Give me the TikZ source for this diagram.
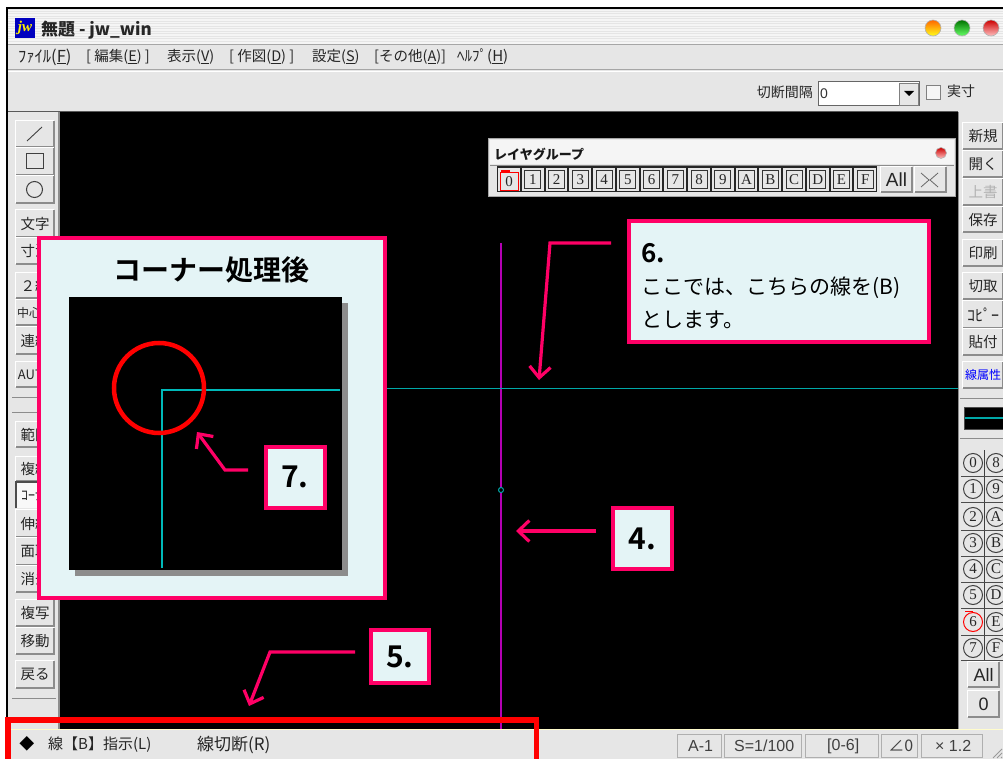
\documentclass[tikz,border=0pt]{standalone}
\usepackage{fontspec}
\usetikzlibrary{arrows.meta}
\setmainfont{Liberation Sans}
\newfontfamily\jp{Noto Sans CJK JP}
\newfontfamily\jpb{Noto Sans CJK JP}[BoldFont={Noto Sans CJK JP Bold}]
\newfontfamily\slab{Liberation Serif}
\definecolor{uigray}{HTML}{E6E6E6}
\definecolor{uidark}{HTML}{8C8C8C}
\definecolor{pinkc}{HTML}{FF0066}
\definecolor{boxfill}{HTML}{E4F4F6}
\definecolor{cyanl}{HTML}{00A8A8}
\definecolor{magl}{HTML}{B400B4}
\newcommand{\fs}[1]{\fontsize{#1}{#1}\selectfont}
\tikzset{
  uilabel/.style={inner sep=0pt,text=black!85,font=\jp\fs{14.5}},
  menu/.style={inner sep=0pt,anchor=west,text=black!85,font=\jp\fs{14.5}},
  sep/.style={line width=1pt,draw=uidark},
  callout/.style={draw=pinkc,line width=4pt,fill=boxfill,inner sep=0pt,text=black},
  numbox/.style={callout,font=\jpb\bfseries\fs{30}},
  callarrow/.style={draw=pinkc,line width=3.2pt,line join=miter,
    -{Straight Barb[length=11pt,width=21pt,line width=3.2pt]}},
  panel/.style={draw=uidark!70,line width=.7pt,fill=uigray,inner sep=0pt,anchor=west,font=\fs{16},text=black!75},
  layerbtn/.style={draw=black!80,line width=1pt,fill=uigray,inner sep=0pt,minimum width=16pt,minimum height=18pt,font=\slab\fs{15},text=black!85},
  circbtn/.style={circle,draw=black!75,line width=1pt,fill=uigray,inner sep=0pt,minimum size=19pt,font=\slab\fs{15},text=black!85},
  lamp/.style={circle,inner sep=0pt,minimum size=16pt,draw=black!30,line width=.6pt}
}
\newcommand{\uibtn}[6]{%
  \pgfmathsetmacro{\bw}{#4-#2}\pgfmathsetmacro{\bh}{#5-#3}%
  \node[fill=uigray,inner sep=0pt,minimum width=\bw pt,minimum height=\bh pt,uilabel] (#1) at ({(#2+#4)/2},{(#3+#5)/2}) {#6};%
  \draw[uidark,line width=1.6pt] (#1.south west) -- (#1.south east) -- (#1.north east);%
  \draw[white,line width=1.2pt] (#1.south west) -- (#1.north west) -- (#1.north east);%
}
\begin{document}
\begin{tikzpicture}[x=1pt,y=-1pt]
\useasboundingbox (0,0) rectangle (1003,759);
\fill[white] (0,0) rectangle (1003,759);
% window
\fill[uigray] (6,8) rectangle (1003,759);
\draw[black,line width=1.6pt] (6.8,759) -- (6.8,8.2) -- (1003,8.2);
% title bar stripes
\fill[white!96!black] (8,10) rectangle (1003,44);
\foreach \yy in {11,13.5,...,43} {\draw[black!10,line width=.8pt] (8,\yy) -- (1003,\yy);}
\draw[black!35,line width=1pt] (8,44.5) -- (1003,44.5);
\draw[black!35,line width=1pt] (8,70) -- (1003,70);
\draw[white,line width=1pt] (8,71.5) -- (1003,71.5);
% title
\node[fill=blue!75!black,inner sep=0pt,minimum width=20pt,minimum height=20pt,text=yellow,font=\slab\bfseries\itshape\fs{15}] (icon) at (25,28) {jw};
\node[inner sep=0pt,anchor=west,font=\jp\bfseries\fs{17},text=black!85] (ttl) at (41,30) {無題 - jw\_win};
\node[lamp,top color=orange!80!red,bottom color=yellow!90!white] (l1) at (933,28) {};
\node[lamp,top color=green!45!black,bottom color=green!60!white] (l2) at (962,28) {};
\node[lamp,top color=red!80!black,bottom color=red!25!white] (l3) at (991,28) {};
% menu
\node[menu,font=\jp\fs{16.5}] (m1) at (18,57) {ﾌｧｲﾙ(\underline{F})};
\node[menu] (m2) at (86,57) {[ 編集(\underline{E}) ]};
\node[menu] (m3) at (167,57) {表示(\underline{V})};
\node[menu] (m4) at (229,57) {[ 作図(\underline{D}) ]};
\node[menu] (m5) at (312,57) {設定(\underline{S})};
\node[menu] (m6) at (374,57) {[その他(\underline{A})]};
\node[menu,font=\jp\fs{15}] (m7) at (457,57) {ﾍﾙﾌﾟ(\underline{H})};
% toolbar
\node[menu,anchor=east,font=\jp\fs{14}] (cutl) at (813,92) {切断間隔};
\node[draw=black!60,line width=1pt,fill=white,inner sep=0pt,minimum width=101pt,minimum height=24pt] (cutbox) at (869,94) {};
\node[anchor=west,inner sep=0pt,font=\fs{14},text=black!80] (cutv) at (820,94) {0};
\node[fill=uigray,draw=black!50,line width=.8pt,inner sep=0pt,minimum width=19pt,minimum height=22pt] (cutbtn) at (909,94) {};
\fill[black] (904,91) -- (914,91) -- (909,96) -- cycle;
\node[draw=black!50,line width=.8pt,fill=white!60!uigray,inner sep=0pt,minimum size=14pt] (chk) at (933,92) {};
\node[menu,font=\jp\fs{14}] (jis) at (947,91) {実寸};
% canvas
\fill[black] (60,112) rectangle (958,729);
\draw[black!65,line width=1pt] (8,111.5) -- (958,111.5);
% drawing lines
\draw[magl,line width=1.3pt] (501,243) -- (501,729);
\draw[cyanl,line width=1.5pt] (386,388.5) -- (958,388.5);
\node[circle,draw=cyanl,line width=1pt,fill=black,inner sep=0pt,minimum size=5pt] (dot) at (501,490) {};
% left buttons
\uibtn{bA}{16}{121}{54}{147}{}
\draw[black!75,line width=.9pt] (27,141) -- (42,127);
\uibtn{bB}{16}{148}{54}{175}{}
\draw[black!75,line width=1pt] (26,154) rectangle (43,169);
\uibtn{bC}{16}{176}{54}{203}{}
\draw[black!75,line width=1pt] (34.5,189.5) circle [radius=8];
\uibtn{bD}{16}{210}{54}{237}{文字}
\uibtn{bE}{16}{238}{54}{264}{寸法}
\uibtn{bF}{16}{273}{54}{298}{２線}
\uibtn{bG}{16}{300}{54}{325}{\fs{12}中心線}
\uibtn{bH}{16}{327}{54}{354}{連線}
\uibtn{bI}{16}{362}{54}{387}{\fs{13}AUTO}
\draw[sep] (12,397) -- (60,397);
\draw[sep] (12,412) -- (60,412);
\uibtn{bJ}{16}{422}{54}{447}{範囲}
\uibtn{bK}{16}{457}{54}{481}{複線}
\node[fill=white!70!uigray,inner sep=0pt,minimum width=38pt,minimum height=26pt,uilabel,font=\jp\fs{14}] (bL) at (35,495) {ｺｰﾅｰ};
\draw[black!70,line width=1.4pt] (bL.south west) -- (bL.north west) -- (bL.north east);
\uibtn{bM}{16}{510}{54}{537}{伸縮}
\uibtn{bN}{16}{538}{54}{565}{面取}
\uibtn{bO}{16}{566}{54}{592}{消去}
\uibtn{bP}{16}{600}{54}{626}{複写}
\uibtn{bQ}{16}{628}{54}{654}{移動}
\uibtn{bR}{16}{661}{54}{688}{戻る}
\draw[sep] (12,698) -- (56,698);
\draw[uidark,line width=1.2pt] (59,112) -- (59,729);
% right buttons
\draw[uidark,line width=1pt] (958.5,112) -- (958.5,729);
\uibtn{rA}{963}{123}{1003}{149}{新規}
\uibtn{rB}{963}{151}{1003}{177}{開く}
\uibtn{rC}{963}{179}{1003}{205}{\textcolor{black!30}{上書}}
\uibtn{rD}{963}{207}{1003}{232}{保存}
\uibtn{rE}{963}{240}{1003}{266}{印刷}
\uibtn{rF}{963}{273}{1003}{299}{切取}
\uibtn{rG}{963}{301}{1003}{328}{\fs{16}ｺﾋﾟｰ}
\uibtn{rH}{963}{329}{1003}{355}{貼付}
\uibtn{rI}{963}{362}{1003}{388}{\textcolor{blue}{\fs{12}線属性}}
\draw[sep] (960,398) -- (1003,398);
\node[draw=black!70,line width=1pt,fill=black,inner sep=0pt,minimum width=44pt,minimum height=22pt] (lineb) at (986,418) {};
\draw[cyanl,line width=1.4pt] (965,418) -- (lineb.east);
\draw[sep] (960,438) -- (1003,438);
% circled layers
\foreach \lbl/\yy [count=\n] in {0/463,1/489,2/517,3/543,4/569,5/595,6/622,7/648} {
  \ifnum\n=7
    \node[circbtn,draw=red] (cl\n) at (973,\yy) {\lbl};
    \draw[red,line width=1.5pt] (965,611.5) -- (973,611.5);
  \else
    \node[circbtn] (cl\n) at (973,\yy) {\lbl};
  \fi
}
\foreach \lbl/\yy [count=\n] in {8/463,9/489,A/517,B/543,C/569,D/595,E/622,F/648} {
  \node[circbtn] (cr\n) at (996,\yy) {\lbl};
}
\draw[black!75,line width=1pt] (984,450) -- (984,660);
\foreach \yy in {476,502.5,530,556,582,608,635,660} {\draw[black!70,line width=1pt] (961,\yy) -- (1003,\yy);}
\uibtn{rJ}{968}{662}{999}{687}{\fontspec{Liberation Sans}\fs{18}All}
\uibtn{rK}{968}{691}{999}{717}{\fontspec{Liberation Sans}\fs{18}0}
% layer group
\node[fill=uigray,draw=black!35,line width=1pt,inner sep=0pt,minimum width=467pt,minimum height=58pt] (lg) at (722,168) {};
\fill[white!96!black] (490,140) rectangle (954,164);
\draw[black!45,line width=.8pt] (490,165) -- (954,165);
\node[inner sep=0pt,anchor=west,font=\jp\bfseries\fs{13},text=black!90] (lgt) at (494,154) {レイヤグループ};
\node[lamp,minimum size=11pt,top color=red!80!black,bottom color=red!25!white] (lgc) at (941,153) {};
\foreach \lbl [count=\n from 0] in {0,1,2,3,4,5,6,7,8,9,A,B,C,D,E,F} {
  \pgfmathsetmacro{\xx}{509+23.75*\n}
  \draw[black!85,line width=1.2pt] (\xx-11.5,191.5) -- (\xx-11.5,167) -- (\xx+11.5,167) -- (\xx+11.5,191.5) -- cycle;
  \ifnum\n=0
    \node[layerbtn,draw=red,minimum width=18pt] (ly\n) at (\xx,182) {\lbl};
    \fill[red] (501,170) rectangle (510,173);
  \else
    \node[layerbtn] (ly\n) at (\xx,179.5) {\lbl};
  \fi
}
\uibtn{lAll}{881}{167}{912}{192}{\fontspec{Liberation Sans}\fs{19}All}
\uibtn{lX}{915}{167}{946}{192}{}
\draw[black!60,line width=.8pt] (921,173) -- (929,180) -- (921,187);
\draw[black!60,line width=.8pt] (938,173) -- (930,180) -- (938,187);
% status bar
\draw[white!80!yellow,line width=1pt] (8,729.5) -- (1003,729.5);
\node[inner sep=0pt,anchor=center,font=\jp\fs{15},text=black] (dia) at (27,744) {◆};
\node[menu,font=\jp\fs{15}] (st1) at (48,745) {線【B】指示(L)};
\node[menu,font=\jp\fs{17}] (st2) at (197,745) {線切断(R)};
\node[panel,minimum width=44pt,minimum height=23pt] (p1) at (677,746) {\,A-1};
\node[panel,minimum width=77pt,minimum height=23pt] (p2) at (724,746) {\,S=1/100};
\node[panel,minimum width=73pt,minimum height=23pt] (p3) at (805,746) {\,[0-6]};
\node[panel,minimum width=36pt,minimum height=23pt,font=\jp\fs{16}] (p4) at (881,746) {\,∠0};
\node[panel,minimum width=61pt,minimum height=23pt] (p5) at (921,746) {\,× 1.2};
\foreach \dd in {0,4,8} {\draw[black!40,line width=.8pt] (1002,749+\dd) -- (993+\dd,758);}
% red rect
\draw[red,line width=5.5pt] (8,775) -- (8,720) -- (536.5,720) -- (536.5,775);
% callout 6
\node[callout,anchor=north west,minimum width=300pt,minimum height=121pt] (c6) at (627,219) {};
\node[inner sep=0pt,anchor=west,font=\jpb\bfseries\fs{26}] (c6a) at (641,253) {6.};
\node[inner sep=0pt,anchor=west,font=\jp\fs{21}] (c6b) at (641,288) {ここでは、こちらの線を(B)};
\node[inner sep=0pt,anchor=west,font=\jp\fs{21}] (c6c) at (641,320) {とします。};
\coordinate (a6s) at (611,243);
\coordinate (a6b) at (550,243);
\coordinate (a6e) at (539,380);
\draw[callarrow] (a6s) -- (a6b) -- (a6e);
% callout 4
\node[numbox,minimum width=59pt,minimum height=61pt] (c4) at (642.5,538.5) {4.};
\coordinate (a4s) at (596,531);
\coordinate (a4e) at (516,531);
\draw[callarrow] (a4s) -- (a4e);
% callout 5
\node[numbox,minimum width=58pt,minimum height=53pt] (c5) at (400,656.5) {5.};
\coordinate (a5s) at (355,652);
\coordinate (a5b) at (270,652);
\coordinate (a5e) at (249,706);
\draw[callarrow] (a5s) -- (a5b) -- (a5e);
% inset
\node[callout,minimum width=346pt,minimum height=360pt] (inset) at (211.5,418) {};
\node[inner sep=0pt,font=\jpb\bfseries\fs{28}] (ititle) at (211,270) {コーナー処理後};
\fill[black!45] (74.5,302.5) rectangle (347.5,575.5);
\node[fill=black,inner sep=0pt,minimum size=273pt,anchor=north west] (sq) at (69,297) {};
\coordinate (cc) at (162,390);
\coordinate (cr) at (340,390);
\coordinate (cb) at (162,568);
\draw[cyanl!80!cyan,line width=1.8pt] (cr) -- (cc) -- (cb);
\node[circle,draw=red,line width=4.5pt,inner sep=0pt,minimum size=90pt] (ring) at (159,388) {};
\node[numbox,minimum width=59pt,minimum height=61pt] (c7) at (295,477) {7.};
\coordinate (a7s) at (248,470);
\coordinate (a7b) at (225,470);
\coordinate (a7e) at (197,432);
\draw[callarrow] (a7s) -- (a7b) -- (a7e);
\end{tikzpicture}
\end{document}
